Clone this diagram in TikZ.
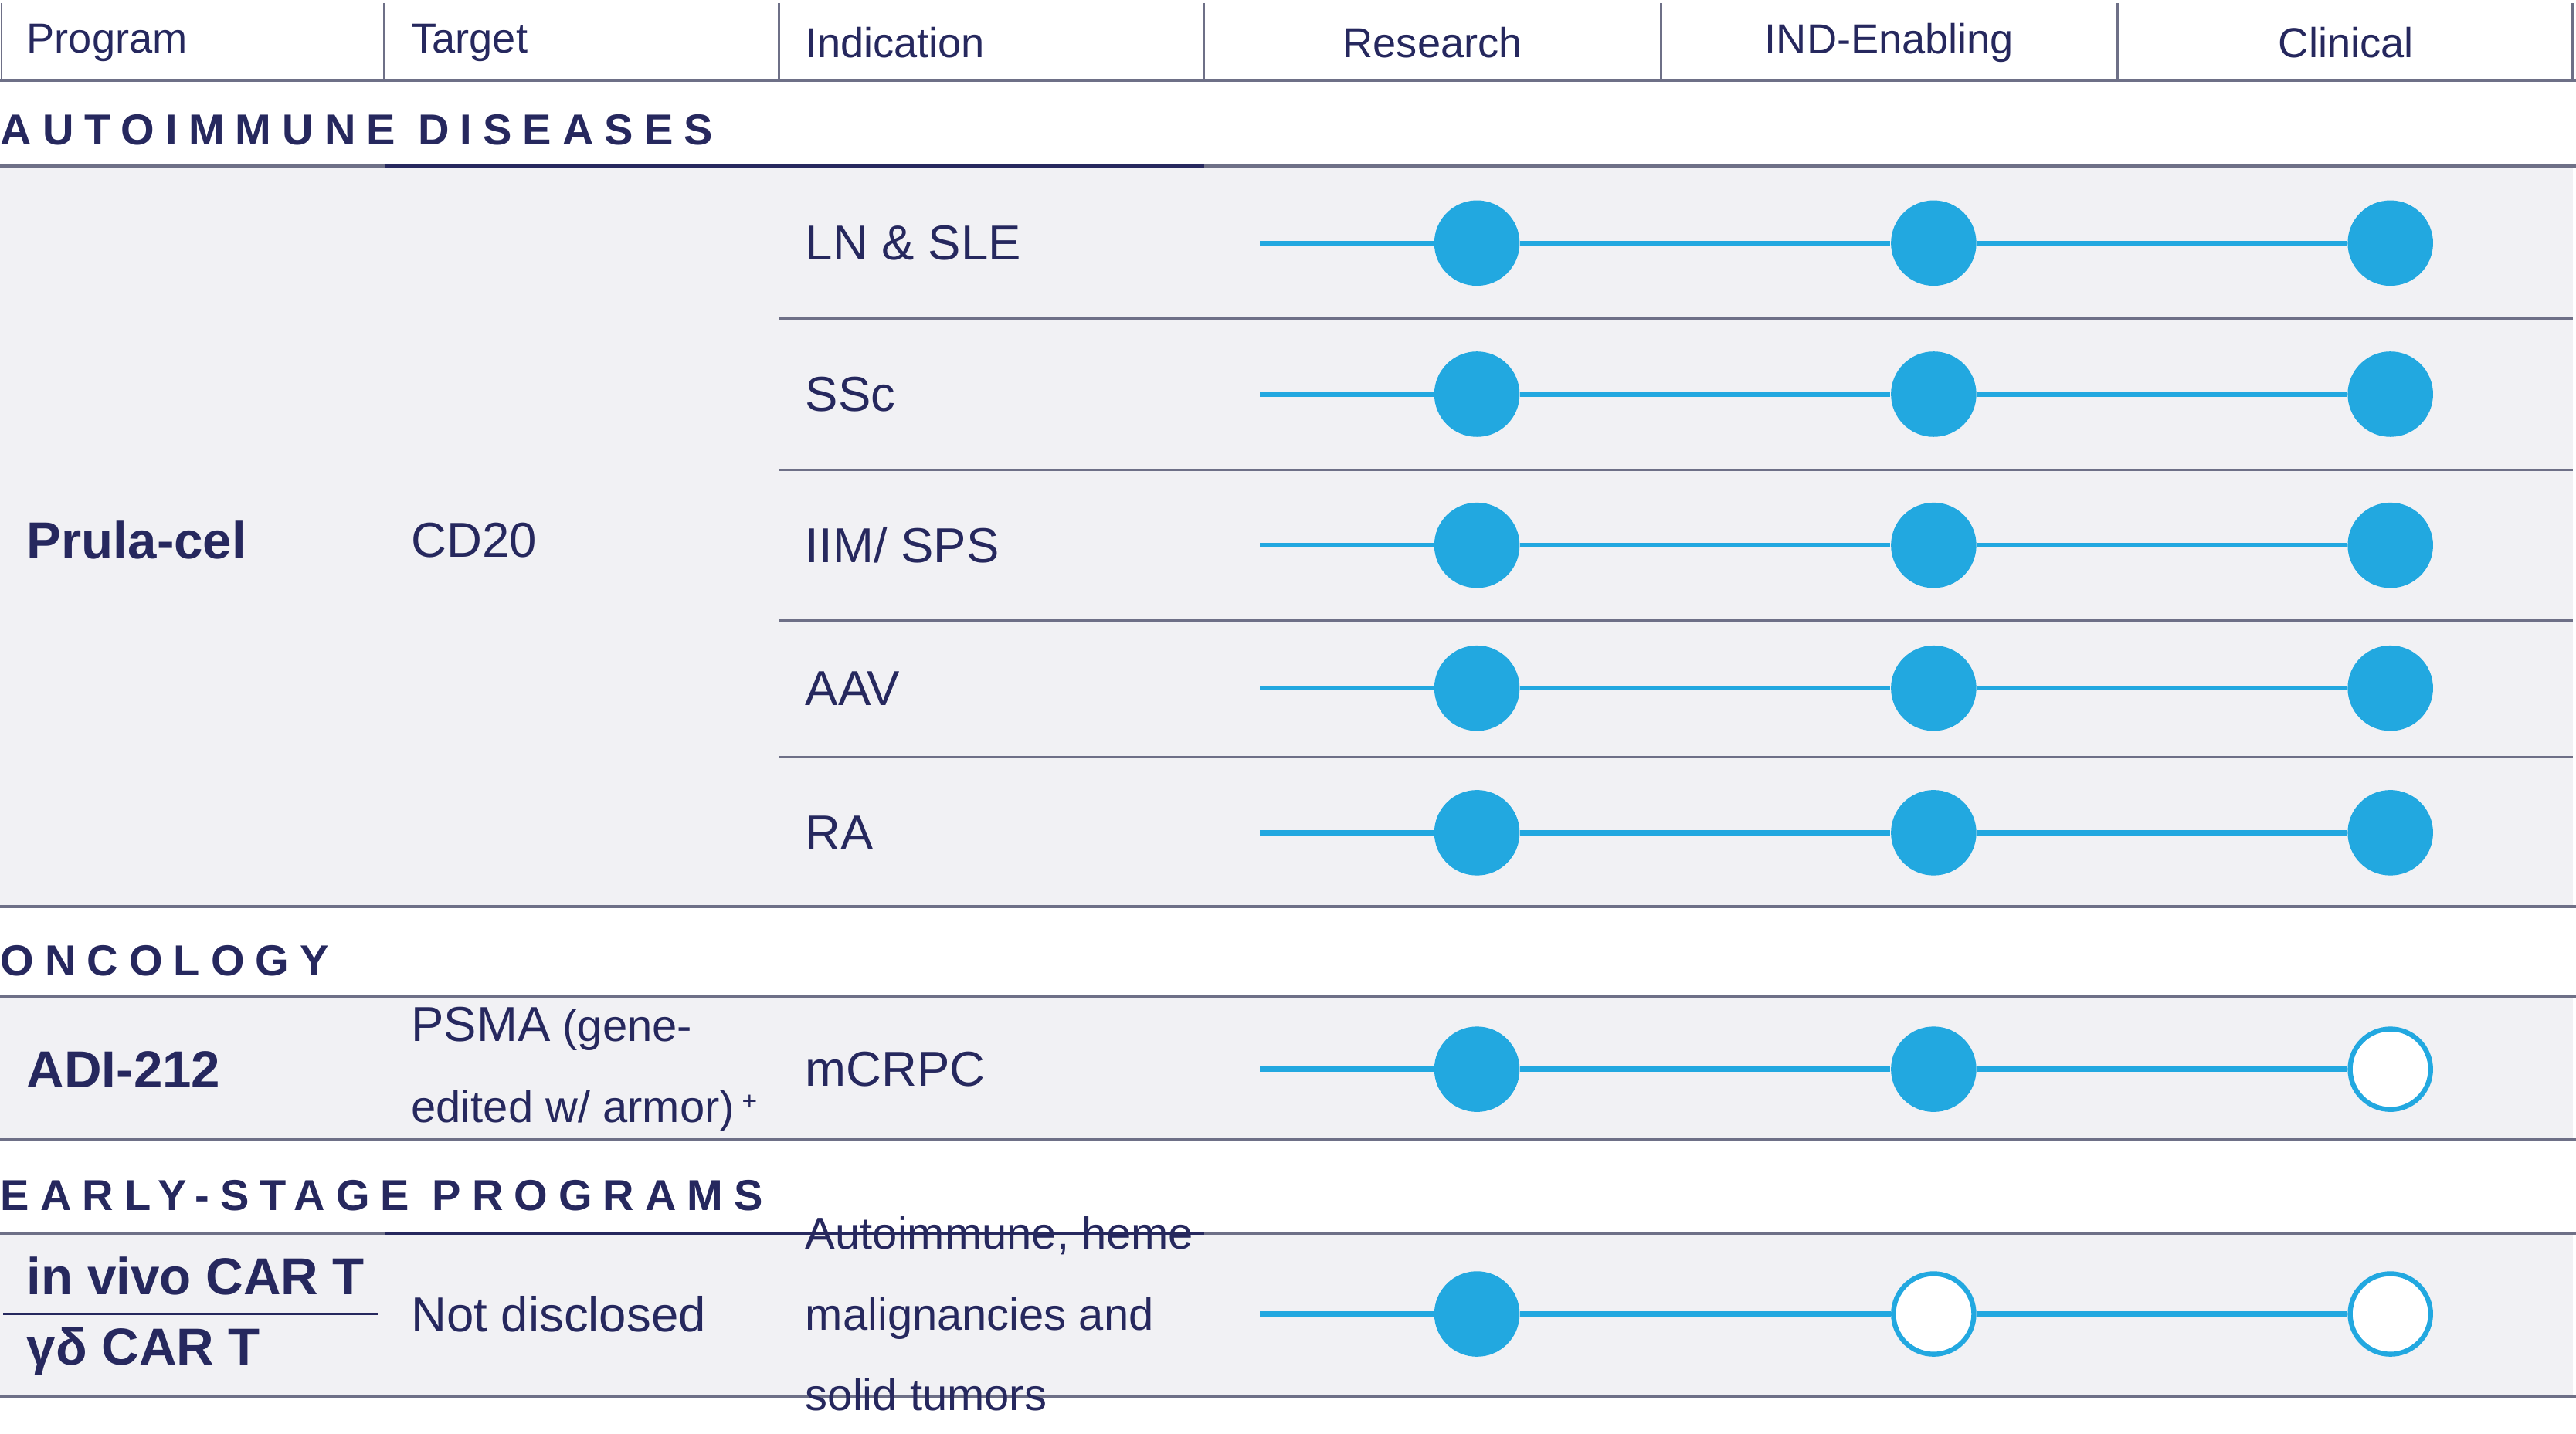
\documentclass[tikz,border=0pt]{standalone}
\usepackage{fontspec}
\setmainfont{Liberation Sans}
\usetikzlibrary{positioning}
\definecolor{navy}{HTML}{26285E}
\definecolor{rulegray}{HTML}{6E7087}
\definecolor{pale}{HTML}{F1F1F4}
\definecolor{pipe}{HTML}{22A8E0}

\begin{document}
\begin{tikzpicture}[x=0.02cm, y=-0.02cm,
    hdr/.style={font=\fontsize{14.5}{16}\selectfont, text=navy, inner sep=0},
    sect/.style={anchor=west, font=\bfseries\fontsize{15}{17}\selectfont\addfontfeature{LetterSpace=25}, text=navy, inner sep=0},
    prog/.style={anchor=west, font=\bfseries\fontsize{18}{20}\selectfont, text=navy, inner sep=0},
    cell/.style={anchor=west, font=\fontsize{17}{19}\selectfont, text=navy, inner sep=0, align=left},
    done/.style={circle, fill=pipe, minimum size=1.04cm, inner sep=0},
    todo/.style={circle, draw=pipe, fill=white, line width=0.06cm, minimum size=0.98cm, inner sep=0},
    track/.style={pipe, line width=0.06cm},
    sep/.style={rulegray, line width=0.04cm}]
	\useasboundingbox (0,0) rectangle (1568,873);
	% shaded blocks
	\fill[pale] (0,101) rectangle (1566,552);
	\fill[pale] (0,607) rectangle (1566,694);
	\fill[pale] (0,751) rectangle (1566,850);

	% header
	\foreach \x in {1,234,474,733,1011,1289,1566}
		\draw[rulegray, line width=0.025cm] (\x,2) -- (\x,49);
	\draw[sep] (0,49) -- (1568,49);
	\node[hdr, anchor=west] (program) at (16,26) {Program};
	\node[hdr, anchor=west] (target) at (250,26) {Target};
	\node[hdr, anchor=west] (indication) at (490,26) {Indication};
	\node[hdr] (research) at (872,26) {Research};
	\node[hdr] (ind) at (1150,26) {IND-Enabling};
	\node[hdr] (clinical) at (1428,26) {Clinical};

	% section titles and rules
	\node[sect] (auto) at (0,79) {AUTOIMMUNE DISEASES};
	\node[sect] (onco) at (0,585) {ONCOLOGY};
	\node[sect] (early) at (0,728) {EARLY-STAGE PROGRAMS};
	\draw[sep] (0,101) -- (234,101);
	\draw[navy, line width=0.04cm] (234,101) -- (733,101);
	\draw[sep] (733,101) -- (1568,101);
	\foreach \y in {194,286,378,461}
		\draw[rulegray, line width=0.03cm] (474,\y) -- (1566,\y);
	\draw[sep] (0,552) -- (1568,552);
	\draw[sep] (0,607) -- (1568,607);
	\draw[sep] (0,694) -- (1568,694);
	\draw[sep] (0,751) -- (234,751);
	\draw[navy, line width=0.04cm] (234,751) -- (733,751);
	\draw[sep] (733,751) -- (1568,751);
	\draw[navy, line width=0.03cm] (2,800) -- (230,800);
	\draw[sep] (0,850) -- (1568,850);

	% programs, targets, indications
	\node[prog] (prula) at (16,329) {Prula-cel};
	\node[cell] (cd20) at (250,329) {CD20};
	\node[cell] (lnsle) at (490,148) {LN \& SLE};
	\node[cell] (sscname) at (490,240) {SSc};
	\node[cell] (iim) at (490,332) {IIM/ SPS};
	\node[cell] (aav) at (490,419) {AAV};
	\node[cell] (ra) at (490,507) {RA};
	\node[prog] (adi) at (16,651) {ADI-212};
	\node[cell, font=\fontsize{15.5}{28}\selectfont] (psma) at (250,651)
		{{\fontsize{17}{19}\selectfont PSMA} (gene-\\edited w/ armor)\,\raisebox{0.5ex}{\fontsize{9}{10}\selectfont +}};
	\node[cell] (mcrpc) at (490,651) {mCRPC};
	\node[prog] (invivo) at (16,777) {in vivo CAR T};
	\node[prog] (gd) at (16,823) {γδ CAR T};
	\node[cell] (undisc) at (250,800) {Not disclosed};
	\node[cell, font=\fontsize{15.5}{28}\selectfont] (mixed) at (490,800)
		{Autoimmune, heme\\malignancies and\\solid tumors};

	% stage tracks
	\foreach \row/\y/\b/\c in {ln/148/done/done, ssc/240/done/done, iimr/332/done/done,
		aavr/419/done/done, rar/507/done/done, mc/651/done/todo, es/800/todo/todo} {
		\coordinate (\row0) at (767,\y);
		\node[done] (\row1) at (899,\y) {};
		\node[\b] (\row2) at (1177,\y) {};
		\node[\c] (\row3) at (1455,\y) {};
		\draw[track] (\row0) -- (\row1) -- (\row2) -- (\row3);
	}
\end{tikzpicture}
\end{document}
